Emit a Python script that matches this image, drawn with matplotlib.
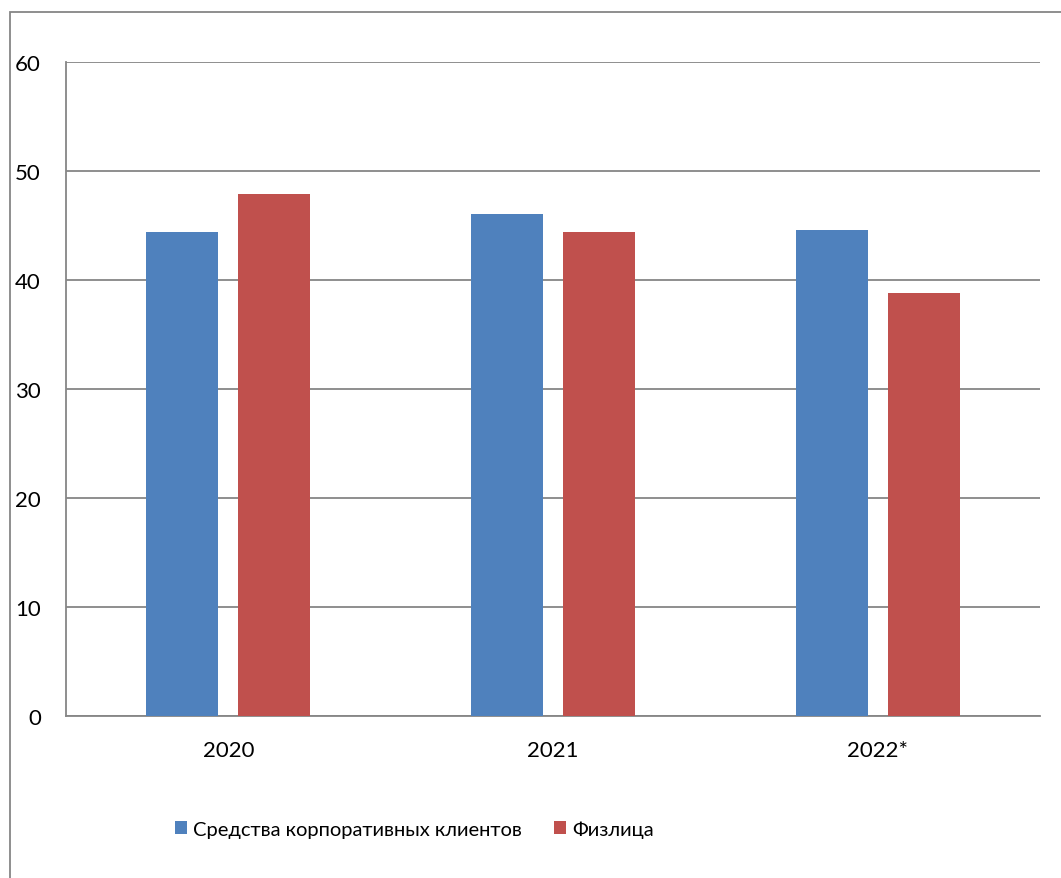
import numpy as np
import matplotlib.pyplot as plt
from matplotlib.patches import Rectangle

# data
years = ["2020", "2021", "2022*"]
corporate = [44.4, 46.1, 44.6]
individuals = [47.9, 44.4, 38.8]
series_names = ["Средства корпоративных клиентов", "Физлица"]

blue = "#4f81bd"
red = "#c0504d"
grey = "#868686"

plt.rcParams["font.family"] = ["Lato", "DejaVu Sans"]

W, H = 1061, 879
fig = plt.figure(figsize=(W / 100, H / 100), dpi=100)
ax = fig.add_axes([66 / W, 1 - 717 / H, (1040 - 66) / W, (717 - 63) / H])

x = np.arange(len(years))
width = 0.222
ax.bar(x - 0.142, corporate, width, color=blue, label=series_names[0], zorder=3)
ax.bar(x + 0.142, individuals, width, color=red, label=series_names[1], zorder=3)

ax.set_xlim(-0.5, len(years) - 0.5)
ax.set_ylim(0, 60)
ax.set_yticks(range(0, 61, 10))
ax.set_xticks(x)
ax.set_xticklabels(years)
ax.yaxis.grid(True, color=grey, linewidth=1.3, zorder=0)
ax.set_axisbelow(True)

for side in ["top", "right"]:
    ax.spines[side].set_visible(False)
for side in ["left", "bottom"]:
    ax.spines[side].set_color(grey)
    ax.spines[side].set_linewidth(1.3)
ax.tick_params(axis="both", length=0, labelsize=16, colors="black")
ax.tick_params(axis="y", pad=18)
ax.tick_params(axis="x", pad=17)
for lbl in ax.get_yticklabels():
    lbl.set_horizontalalignment("right")

# outer chart border
fig.patches.append(Rectangle((10 / W, -0.1), 1.2, 1 - 13 / H + 0.1,
                             transform=fig.transFigure, fill=False,
                             edgecolor=grey, linewidth=1.3))

fig.legend(loc="center", bbox_to_anchor=(414 / W, 1 - 830 / H), ncol=2,
           frameon=False, fontsize=14.5, handlelength=0.6, handleheight=0.6,
           handletextpad=0.3, columnspacing=1.6)

fig.savefig("out.png", dpi=100)
